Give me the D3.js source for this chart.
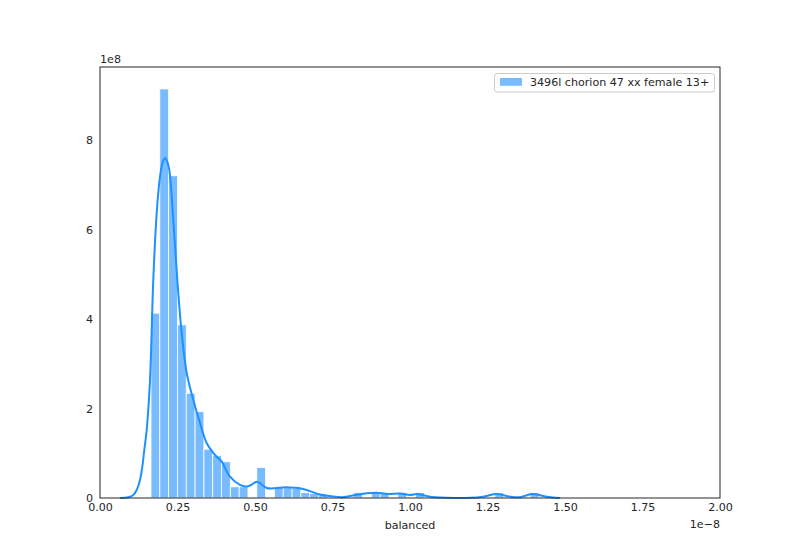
<!DOCTYPE html>
<html>
<head>
<meta charset="utf-8">
<script src="https://cdn.jsdelivr.net/npm/d3@7/dist/d3.min.js"></script>
<style>
  html, body { margin: 0; padding: 0; background: #fff; }
  svg text { font-family: "DejaVu Sans", sans-serif; fill: #262626; }
</style>
</head>
<body>
<svg id="chart" width="800" height="560"></svg>
<script>
// ---- data (x in units of 1e-8, density in units of 1e8) ----
const seriesName = "3496l chorion 47 xx female 13+";
const xLabel = "balanced";
const histMin = 0.1645;
const histMax = 1.4158;
const histDensity = [
  4.13, 9.14, 7.20, 3.87, 2.34, 1.93, 1.09, 0.945, 0.81, 0.25,
  0.25, 0, 0.68, 0, 0.24, 0.23, 0.22, 0.12, 0.10, 0.08,
  0, 0, 0, 0.12, 0, 0.13, 0.10, 0, 0.12, 0,
  0.12, 0, 0, 0, 0, 0, 0, 0, 0, 0.12,
  0, 0, 0, 0.12
];
const kdeX = [0.0645, 0.0913, 0.1074, 0.1184, 0.1290, 0.1365, 0.1429, 0.1506, 0.1613, 0.1719,
  0.1829, 0.1935, 0.2016, 0.2097, 0.2161, 0.2235, 0.2365, 0.2494, 0.2635, 0.2797,
  0.3010, 0.3226, 0.3442, 0.3710, 0.3926, 0.4194, 0.4516, 0.4732, 0.4871, 0.5055,
  0.5194, 0.5377, 0.5645, 0.5968, 0.6290, 0.6452, 0.6710, 0.7097, 0.7419, 0.7797,
  0.8065, 0.8323, 0.8603, 0.8926, 0.9290, 0.9677, 1.0000, 1.0226, 1.0645, 1.0968,
  1.1452, 1.1935, 1.2355, 1.2797, 1.3226, 1.3548, 1.3935, 1.4410, 1.4839];
const kdeY = [0, 0.016, 0.067, 0.179, 0.402, 0.699, 1.073, 1.520, 2.637, 4.872,
  6.369, 7.173, 7.486, 7.598, 7.531, 7.330, 6.212, 4.872, 3.687, 2.793,
  2.190, 1.676, 1.229, 0.961, 0.811, 0.476, 0.291, 0.257, 0.291, 0.365,
  0.313, 0.224, 0.217, 0.241, 0.230, 0.217, 0.168, 0.078, 0.045, 0.018,
  0.045, 0.078, 0.106, 0.119, 0.089, 0.101, 0.067, 0.089, 0.029, 0.009,
  0, 0.004, 0.029, 0.089, 0.029, 0.018, 0.089, 0.029, 0];
const xTicks = [0, 0.25, 0.5, 0.75, 1.0, 1.25, 1.5, 1.75, 2.0];
const yTicks = [0, 2, 4, 6, 8];

// ---- layout ----
const svg = d3.select("#chart");
const L = 100, R = 720, T = 67, B = 498;
const x = d3.scaleLinear().domain([0, 2]).range([L, R]);
const y = d3.scaleLinear().domain([0, 9.63]).range([B, T]);

const barColor = "#78bcff";
const lineColor = "#1e90ff";

// histogram bars
const nb = histDensity.length;
const bw = (histMax - histMin) / nb;
const bins = histDensity.map((d, i) => ({x0: histMin + i * bw, x1: histMin + (i + 1) * bw, v: d}));
svg.append("g").selectAll("rect").data(bins.filter(b => b.v > 0)).join("rect")
  .attr("x", d => x(d.x0))
  .attr("width", d => x(d.x1) - x(d.x0))
  .attr("y", d => y(d.v))
  .attr("height", d => y(0) - y(d.v))
  .attr("fill", barColor)
  .attr("stroke", "#ffffff")
  .attr("stroke-width", 0.8);

// KDE line
const kde = kdeX.map((v, i) => [v, kdeY[i]]);
svg.append("path")
  .datum(kde)
  .attr("fill", "none")
  .attr("stroke", lineColor)
  .attr("stroke-width", 2)
  .attr("stroke-linejoin", "round")
  .attr("d", d3.line().x(d => x(d[0])).y(d => y(d[1])).curve(d3.curveCatmullRom.alpha(0.5)));

// frame
svg.append("rect").attr("x", L).attr("y", T).attr("width", R - L).attr("height", B - T)
  .attr("fill", "none").attr("stroke", "#262626").attr("stroke-width", 1);

// axes (no tick marks)
const fs = "11.1px";
const xAxis = d3.axisBottom(x).tickValues(xTicks).tickSize(0).tickPadding(5)
  .tickFormat(d3.format(".2f"));
const gx = svg.append("g").attr("transform", `translate(0,${B})`).call(xAxis);
gx.select(".domain").remove();
gx.selectAll("text").style("font-size", fs).style("font-family", "DejaVu Sans").attr("fill", "#262626");

const yAxis = d3.axisLeft(y).tickValues(yTicks).tickSize(0).tickPadding(7)
  .tickFormat(d3.format("d"));
const gy = svg.append("g").attr("transform", `translate(${L},0)`).call(yAxis);
gy.select(".domain").remove();
gy.selectAll("text").style("font-size", fs).style("font-family", "DejaVu Sans").attr("fill", "#262626");

// offset labels
svg.append("text").attr("x", L).attr("y", 63).style("font-size", fs).text("1e8");
svg.append("text").attr("x", R).attr("y", 528).attr("text-anchor", "end").style("font-size", fs).text("1e\u22128");
svg.append("text").attr("x", (L + R) / 2).attr("y", 529).attr("text-anchor", "middle").style("font-size", fs).text(xLabel);

// legend
const lg = svg.append("g");
lg.append("rect").attr("x", 494.5).attr("y", 73.5).attr("width", 220).attr("height", 18.5)
  .attr("rx", 2.5).attr("fill", "#ffffff").attr("fill-opacity", 0.8)
  .attr("stroke", "#cccccc").attr("stroke-width", 1);
lg.append("rect").attr("x", 500).attr("y", 78).attr("width", 22).attr("height", 7.8).attr("fill", barColor);
lg.append("text").attr("x", 530).attr("y", 86.3).style("font-size", fs).text(seriesName);
</script>
</body>
</html>
